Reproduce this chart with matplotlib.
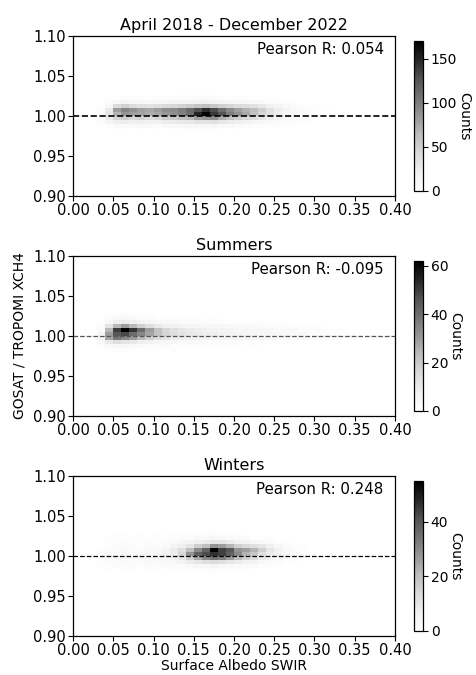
"""
GOSAT / TROPOMI XCH4 ratio against SWIR surface albedo, three periods.
"""

import matplotlib
matplotlib.use("Agg")
import matplotlib.pyplot as plt
import numpy as np

# ============================================================
# Data (binned counts, rows from 0.980 upward in steps of 0.005,
# columns from albedo 0.03 upward in steps of 0.01)
# ============================================================

albedo_edges = [0.03, 0.04, 0.05, 0.06, 0.07, 0.08, 0.09, 0.10, 0.11,
                0.12, 0.13, 0.14, 0.15, 0.16, 0.17, 0.18, 0.19, 0.20,
                0.21, 0.22, 0.23, 0.24, 0.25, 0.26, 0.27, 0.28, 0.29,
                0.30, 0.31, 0.32, 0.33, 0.34, 0.35]
ratio_edges = [0.980, 0.985, 0.990, 0.995, 1.000, 1.005, 1.010, 1.015,
               1.020, 1.025, 1.030]

counts_all = [
    [0, 1, 2, 2, 1, 2, 1, 2, 1, 2, 2, 3, 2, 3, 2, 2, 1, 2, 1, 1, 1, 0, 1, 0, 0, 0, 0, 0, 0, 0, 0, 0],
    [2, 5, 8, 7, 6, 8, 7, 6, 8, 9, 10, 11, 12, 10, 11, 9, 8, 7, 6, 5, 4, 3, 3, 2, 2, 1, 1, 1, 0, 0, 0, 0],
    [5, 14, 22, 25, 20, 22, 18, 20, 24, 26, 28, 30, 34, 32, 35, 30, 26, 22, 18, 15, 12, 9, 7, 5, 4, 3, 2, 1, 1, 0, 0, 0],
    [6, 25, 45, 50, 42, 46, 40, 44, 52, 55, 60, 66, 80, 85, 90, 72, 60, 50, 42, 36, 28, 20, 14, 10, 7, 5, 3, 2, 1, 1, 0, 0],
    [5, 30, 70, 85, 80, 78, 72, 76, 84, 90, 98, 110, 150, 170, 140, 125, 100, 88, 75, 60, 45, 32, 22, 15, 10, 6, 4, 3, 2, 1, 1, 0],
    [4, 28, 82, 95, 88, 80, 76, 82, 90, 92, 100, 112, 128, 145, 130, 110, 92, 80, 70, 62, 50, 35, 24, 16, 10, 7, 5, 3, 2, 1, 0, 0],
    [2, 12, 40, 48, 40, 36, 34, 38, 42, 44, 48, 52, 58, 62, 56, 50, 44, 40, 38, 34, 28, 20, 14, 9, 6, 4, 3, 2, 1, 0, 0, 0],
    [1, 5, 12, 14, 12, 11, 10, 12, 13, 14, 15, 16, 18, 20, 17, 15, 13, 12, 11, 10, 8, 6, 4, 3, 2, 1, 1, 0, 0, 0, 0, 0],
    [0, 2, 3, 4, 3, 3, 3, 4, 4, 5, 5, 6, 6, 7, 6, 5, 4, 4, 3, 3, 2, 2, 1, 1, 1, 0, 0, 0, 0, 0, 0, 0],
    [0, 0, 1, 1, 1, 1, 1, 1, 1, 1, 2, 2, 2, 2, 2, 1, 1, 1, 1, 1, 0, 0, 0, 0, 0, 0, 0, 0, 0, 0, 0, 0],
]

counts_summer = [
    [0, 1, 1, 1, 1, 0, 1, 0, 0, 1, 0, 0, 0, 0, 0, 0, 0, 0, 0, 0, 0, 0, 0, 0, 0, 0, 0, 0, 0, 0, 0, 0],
    [1, 3, 4, 4, 3, 3, 2, 2, 2, 1, 1, 1, 1, 1, 1, 1, 1, 1, 0, 1, 0, 0, 0, 0, 0, 0, 0, 0, 0, 0, 0, 0],
    [3, 10, 14, 12, 10, 8, 7, 5, 4, 4, 3, 3, 3, 2, 2, 2, 2, 2, 1, 1, 1, 1, 1, 1, 1, 0, 0, 0, 0, 0, 0, 0],
    [6, 28, 38, 34, 30, 24, 18, 14, 11, 9, 8, 7, 6, 6, 5, 5, 4, 4, 4, 3, 3, 3, 2, 2, 2, 2, 2, 1, 1, 1, 0, 0],
    [5, 30, 45, 48, 40, 34, 28, 22, 16, 14, 12, 10, 9, 8, 8, 7, 6, 6, 5, 5, 4, 4, 4, 3, 3, 3, 2, 2, 2, 1, 1, 1],
    [3, 24, 50, 62, 52, 40, 30, 22, 16, 13, 11, 9, 8, 7, 7, 6, 6, 5, 5, 4, 4, 4, 3, 3, 3, 2, 2, 2, 1, 1, 1, 0],
    [2, 12, 24, 30, 24, 18, 14, 10, 8, 7, 6, 5, 5, 4, 4, 4, 3, 3, 3, 3, 2, 2, 2, 2, 1, 1, 1, 1, 0, 0, 0, 0],
    [1, 4, 8, 9, 8, 6, 5, 4, 3, 3, 2, 2, 2, 2, 1, 1, 1, 1, 1, 1, 1, 0, 1, 0, 0, 0, 0, 0, 0, 0, 0, 0],
    [0, 2, 3, 4, 3, 2, 2, 1, 1, 1, 1, 1, 1, 0, 1, 0, 0, 0, 0, 0, 0, 0, 0, 0, 0, 0, 0, 0, 0, 0, 0, 0],
    [0, 1, 1, 2, 1, 1, 1, 0, 0, 0, 0, 0, 0, 0, 0, 0, 0, 0, 0, 0, 0, 0, 0, 0, 0, 0, 0, 0, 0, 0, 0, 0],
]

counts_winter = [
    [0, 1, 0, 1, 1, 0, 1, 1, 0, 1, 1, 1, 1, 1, 2, 1, 1, 1, 1, 0, 0, 0, 0, 0, 0, 0, 0, 0, 0, 0, 0, 0],
    [1, 1, 2, 1, 2, 1, 2, 1, 2, 2, 2, 3, 4, 4, 5, 4, 3, 3, 2, 2, 1, 1, 1, 0, 0, 0, 0, 0, 0, 0, 0, 0],
    [1, 2, 2, 3, 2, 2, 3, 3, 3, 4, 5, 8, 10, 12, 13, 12, 10, 8, 6, 5, 3, 2, 2, 1, 1, 0, 0, 0, 0, 0, 0, 0],
    [1, 2, 3, 3, 3, 3, 3, 4, 4, 6, 9, 16, 24, 30, 34, 32, 26, 20, 15, 12, 8, 5, 3, 2, 1, 1, 0, 0, 0, 0, 0, 0],
    [1, 3, 3, 4, 3, 3, 4, 4, 5, 8, 14, 28, 38, 42, 46, 44, 38, 30, 22, 18, 12, 8, 5, 3, 2, 1, 1, 0, 0, 0, 0, 0],
    [1, 2, 2, 3, 2, 2, 3, 3, 5, 8, 12, 20, 30, 38, 55, 44, 40, 28, 26, 22, 16, 10, 6, 3, 2, 1, 0, 0, 0, 0, 0, 0],
    [0, 1, 2, 2, 2, 1, 2, 2, 3, 5, 7, 10, 16, 20, 28, 26, 22, 16, 14, 12, 10, 7, 4, 2, 1, 1, 0, 0, 0, 0, 0, 0],
    [0, 1, 1, 2, 1, 1, 2, 1, 2, 3, 4, 5, 7, 8, 10, 10, 8, 6, 5, 4, 3, 2, 1, 1, 0, 0, 0, 0, 0, 0, 0, 0],
    [0, 1, 1, 1, 1, 1, 1, 1, 1, 1, 2, 2, 3, 3, 4, 4, 3, 2, 2, 1, 1, 1, 0, 0, 0, 0, 0, 0, 0, 0, 0, 0],
    [0, 0, 1, 1, 0, 1, 0, 1, 0, 1, 1, 1, 1, 1, 2, 1, 1, 1, 0, 0, 0, 0, 0, 0, 0, 0, 0, 0, 0, 0, 0, 0],
]

titles = ["April 2018 - December 2022", "Summers", "Winters"]
pearson_r = ["0.054", "-0.095", "0.248"]
cbar_ticks = [[0, 50, 100, 150], [0, 20, 40, 60], [0, 20, 40]]
x_ticks = [0.00, 0.05, 0.10, 0.15, 0.20, 0.25, 0.30, 0.35, 0.40]
y_ticks = [0.90, 0.95, 1.00, 1.05, 1.10]

# ============================================================
# Figure layout (pixel positions measured on a 477 x 675 canvas)
# ============================================================

W, H = 477, 675
fig = plt.figure(figsize=(W / 100, H / 100), dpi=100)
plt.rcParams["font.family"] = ["DejaVu Sans"]

panel_tops = [36, 256, 476]
panel_h = 160
left, right = 73, 395
cbar_x, cbar_w = 414, 9

line_styles = [
    dict(color="black", lw=1.2),
    dict(color="#555555", lw=0.9),
    dict(color="black", lw=0.9),
]

all_counts = [counts_all, counts_summer, counts_winter]

for i, counts in enumerate(all_counts):
    top = panel_tops[i]
    ax = fig.add_axes([
        left / W,
        (H - top - panel_h) / H,
        (right - left) / W,
        panel_h / H,
    ])

    mesh = ax.pcolormesh(
        albedo_edges,
        ratio_edges,
        np.array(counts),
        cmap="Greys",
        vmin=0,
        shading="flat",
    )

    ax.axhline(1.0, linestyle="--", **line_styles[i])

    ax.set_xlim(0.0, 0.4)
    ax.set_ylim(0.9, 1.1)
    ax.set_xticks(x_ticks)
    ax.set_yticks(y_ticks)
    ax.set_xticklabels([f"{v:.2f}" for v in x_ticks])
    ax.set_yticklabels([f"{v:.2f}" for v in y_ticks])
    ax.tick_params(labelsize=10.5, length=3.5, width=0.8, pad=1.5)
    for sp in ax.spines.values():
        sp.set_linewidth(0.9)

    ax.set_title(titles[i], fontsize=11.5, pad=4)

    ax.text(
        0.965, 0.965,
        f"Pearson R: {pearson_r[i]}",
        transform=ax.transAxes,
        ha="right",
        va="top",
        fontsize=10.8,
    )

    if i == 1:
        ax.set_ylabel("GOSAT / TROPOMI XCH4", fontsize=10, labelpad=5)
    if i == 2:
        ax.set_xlabel("Surface Albedo SWIR", fontsize=10, labelpad=1)

    cax = fig.add_axes([
        cbar_x / W,
        (H - top - panel_h + 5) / H,
        cbar_w / W,
        (panel_h - 10) / H,
    ])
    cb = fig.colorbar(mesh, cax=cax, ticks=cbar_ticks[i])
    cb.ax.tick_params(labelsize=10, length=3.5, width=0.8, pad=2)
    cb.outline.set_linewidth(0.9)
    cb.set_label("Counts", rotation=270, fontsize=10, labelpad=10)

fig.savefig("out.png", dpi=100)
